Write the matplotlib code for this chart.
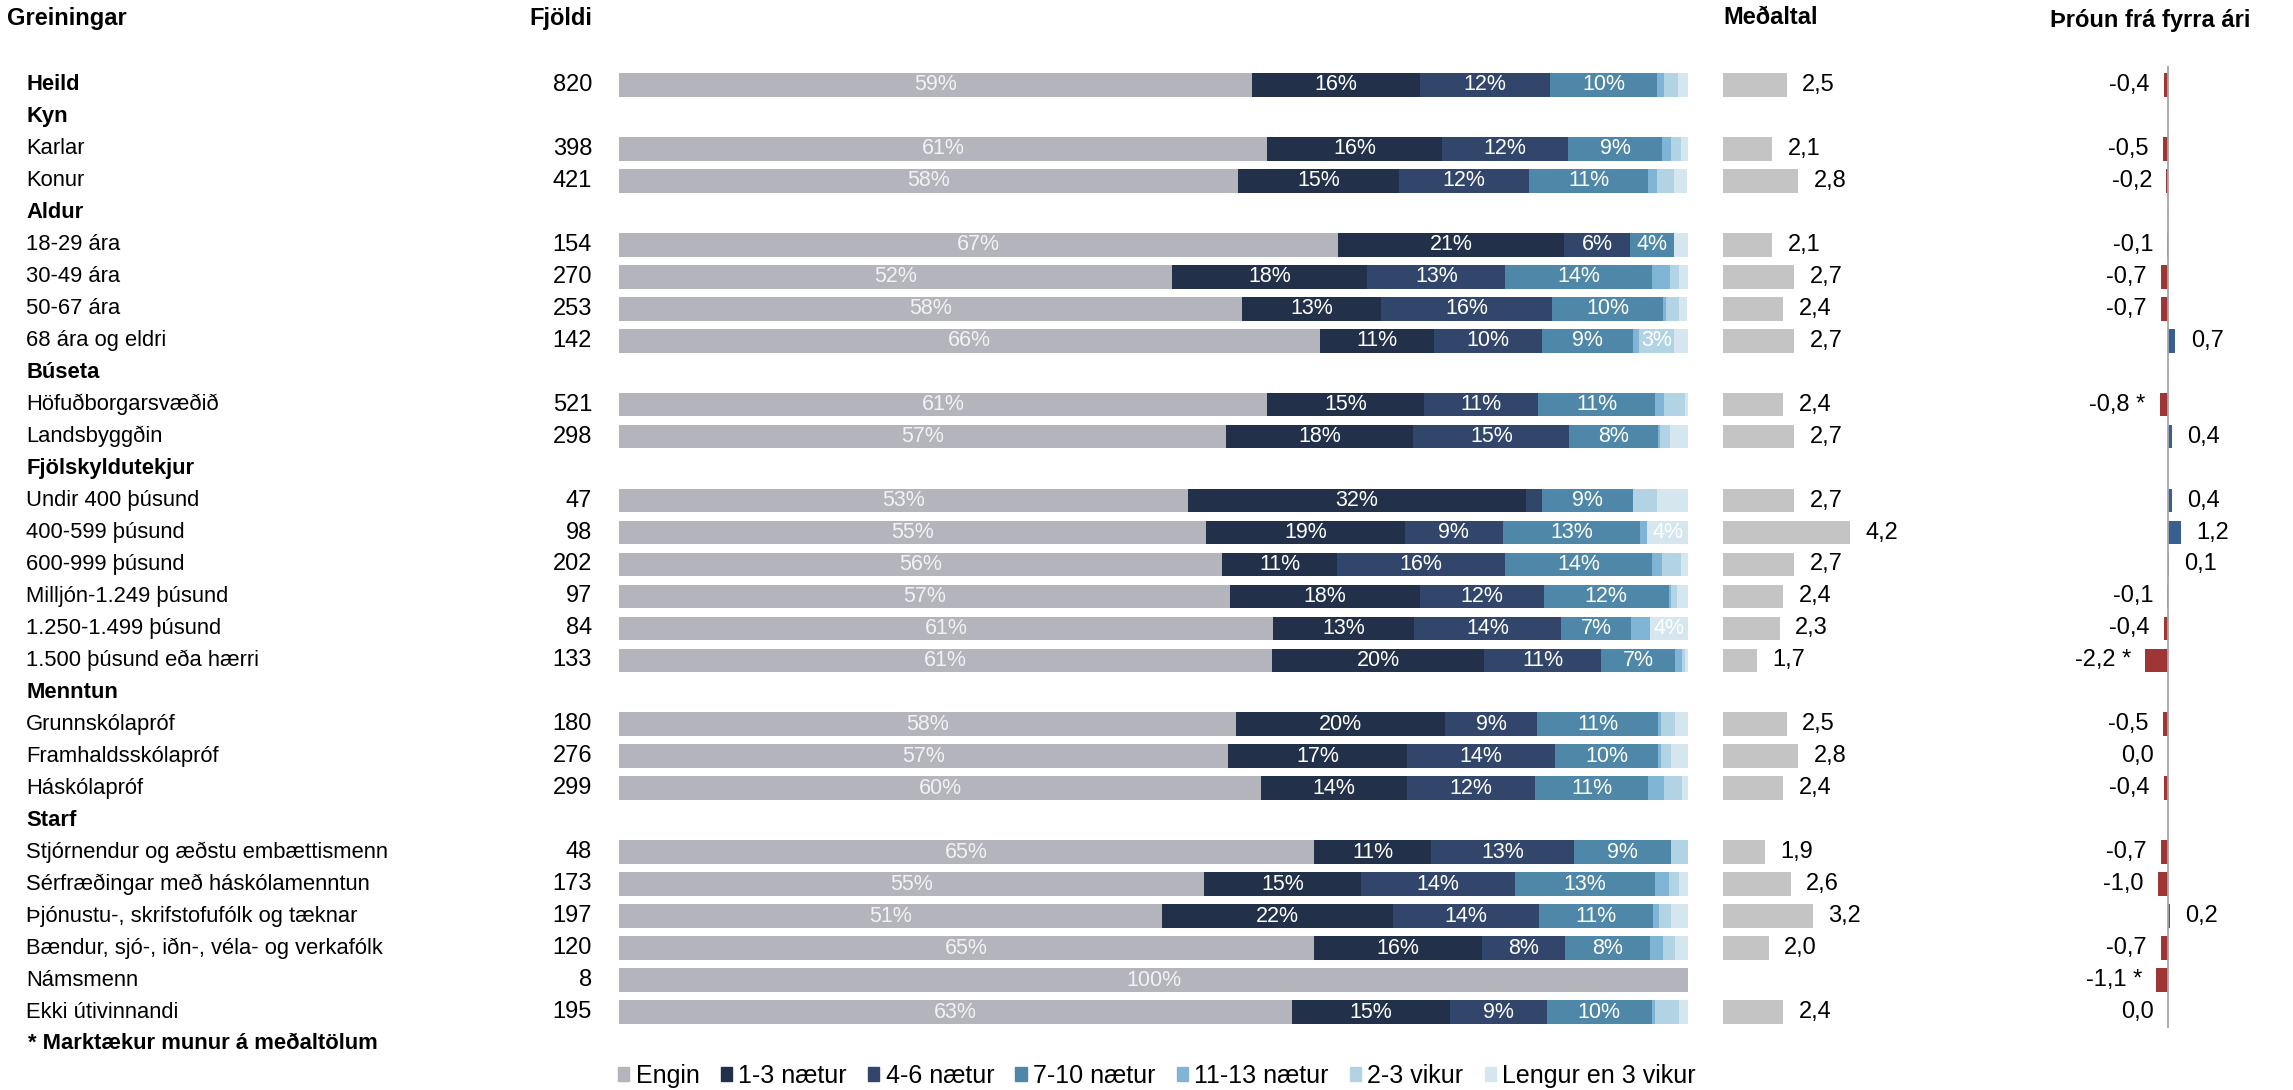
import matplotlib.pyplot as plt
from matplotlib.patches import Patch
from matplotlib.transforms import blended_transform_factory

plt.rcParams['font.family'] = ['Liberation Sans', 'DejaVu Sans']

# row labels, group headers have no data
labels = ["Heild", "Kyn", "Karlar", "Konur", "Aldur", "18-29 ára", "30-49 ára", "50-67 ára",
          "68 ára og eldri", "Búseta", "Höfuðborgarsvæðið", "Landsbyggðin", "Fjölskyldutekjur",
          "Undir 400 þúsund", "400-599 þúsund", "600-999 þúsund", "Milljón-1.249 þúsund",
          "1.250-1.499 þúsund", "1.500 þúsund eða hærri", "Menntun", "Grunnskólapróf",
          "Framhaldsskólapróf", "Háskólapróf", "Starf", "Stjórnendur og æðstu embættismenn",
          "Sérfræðingar með háskólamenntun", "Þjónustu-, skrifstofufólk og tæknar",
          "Bændur, sjó-, iðn-, véla- og verkafólk", "Námsmenn", "Ekki útivinnandi"]
headers = ["Kyn", "Aldur", "Búseta", "Fjölskyldutekjur", "Menntun", "Starf"]

counts = [820, 398, 421, 154, 270, 253, 142, 521, 298, 47, 98, 202, 97, 84, 133,
          180, 276, 299, 48, 173, 197, 120, 8, 195]

# shares (%) per answer
engin = [59.2, 60.6, 57.9, 67.3, 51.7, 58.3, 65.6, 60.6, 56.8, 53.2, 54.9, 56.4, 57.2, 61.2, 61.1,
         57.7, 57.0, 60.1, 65.0, 54.7, 50.8, 65.0, 100, 63.0]
n1_3 = [15.7, 16.4, 15.1, 21.1, 18.3, 13.0, 10.6, 14.7, 17.5, 31.6, 18.6, 10.8, 17.7, 13.2, 19.8,
        19.6, 16.7, 13.6, 11.0, 14.7, 21.6, 15.7, 0, 14.7]
n4_6 = [12.2, 11.8, 12.1, 6.2, 12.9, 16.0, 10.1, 10.7, 14.6, 1.5, 9.2, 15.7, 11.6, 13.7, 11.0,
        8.6, 13.9, 12.0, 13.3, 14.4, 13.7, 7.8, 0, 9.1]
n7_10 = [10.0, 8.8, 11.2, 4.1, 13.7, 10.4, 8.6, 10.9, 8.3, 8.6, 12.8, 13.7, 11.7, 6.6, 6.9,
         11.3, 9.6, 10.6, 9.1, 13.1, 10.6, 7.9, 0, 9.8]
n11_13 = [0.7, 0.8, 0.8, 0, 1.7, 0.2, 0.5, 0.9, 0.2, 0, 0.7, 1.0, 0.2, 1.7, 0.6,
          0.3, 0.3, 1.5, 0, 1.3, 0.6, 1.3, 0, 0.3]
v2_3 = [1.3, 0.9, 1.6, 0, 0.9, 1.3, 3.3, 1.9, 0.9, 2.2, 0, 1.7, 0.6, 0, 0.3,
        1.3, 0.9, 1.6, 1.6, 1.0, 1.1, 1.1, 0, 2.3]
lengur = [1.0, 0.8, 1.2, 1.3, 0.8, 0.7, 1.3, 0.4, 1.7, 2.9, 3.8, 0.7, 1.0, 3.6, 0.3,
          1.2, 1.6, 0.7, 0, 0.8, 1.6, 1.2, 0, 0.8]

means = [2.5, 2.1, 2.8, 2.1, 2.7, 2.4, 2.7, 2.4, 2.7, 2.7, 4.2, 2.7, 2.4, 2.3, 1.7,
         2.5, 2.8, 2.4, 1.9, 2.6, 3.2, 2.0, None, 2.4]
changes = [-0.4, -0.5, -0.2, -0.1, -0.7, -0.7, 0.7, -0.8, 0.4, 0.4, 1.2, 0.1, -0.1, -0.4, -2.2,
           -0.5, -0.04, -0.4, -0.7, -1.0, 0.2, -0.7, -1.1, -0.04]
significant = [False] * 7 + [True] + [False] * 6 + [True] + [False] * 7 + [True, False]

series = [engin, n1_3, n4_6, n7_10, n11_13, v2_3, lengur]
series_names = ["Engin", "1-3 nætur", "4-6 nætur", "7-10 nætur", "11-13 nætur", "2-3 vikur",
                "Lengur en 3 vikur"]
colors = ["#b3b4bc", "#23304a", "#32466c", "#4f87a8", "#80b4d4", "#b2d3e4", "#d5e6ef"]

W, H = 2293, 1090
fig = plt.figure(figsize=(W / 100, H / 100), dpi=100)


def fx(px):
    return px / W


row_top, row_bottom = 69, 1028
bottom = 1 - row_bottom / H
height = (row_bottom - row_top) / H
mean0 = 0.77

ax = fig.add_axes([fx(619), bottom, fx(1688 - 619), height])
ax_mean = fig.add_axes([fx(1723), bottom, fx(300), height])
ax_chg = fig.add_axes([fx(2068), bottom, fx(200), height])
for a in (ax, ax_mean, ax_chg):
    a.set_ylim(len(labels) - 0.5, -0.5)
    a.axis("off")
ax.set_xlim(0, 100)
ax_mean.set_xlim(mean0, mean0 + 300 / 37)
ax_chg.set_xlim(-100 / 10.5, 100 / 10.5)

fs = 15.8      # row labels
fs_pct = 15.5  # labels inside bars
fs_num = 17    # counts, averages and changes
trans = blended_transform_factory(fig.transFigure, ax.transData)
data_y = [i for i, l in enumerate(labels) if l not in headers]

for i, l in enumerate(labels):
    bold = l in headers or l == "Heild"
    ax.text(fx(26), i, l, transform=trans, ha="left", va="center", fontsize=fs,
            fontweight="bold" if bold else "normal")

# stacked bars
left = [0] * len(data_y)
for k, (vals, name, c) in enumerate(zip(series, series_names, colors)):
    ax.barh(data_y, vals, left=left, height=0.74, color=c, label=name)
    for y, v, l0 in zip(data_y, vals, left):
        if v >= 3:
            ax.text(l0 + v / 2, y, f"{v:.0f}%", ha="center", va="center", fontsize=fs_pct,
                    color="#f2f2f2" if k == 0 else "white")
    left = [a + b for a, b in zip(left, vals)]

for y, n in zip(data_y, counts):
    ax.text(fx(592), y, str(n), transform=trans, ha="right", va="center", fontsize=fs_num)

# averages
for y, m in zip(data_y, means):
    if m is None:
        continue
    ax_mean.barh(y, m - mean0, left=mean0, height=0.74, color="#c4c4c4")
    ax_mean.annotate(f"{m:.1f}".replace(".", ","), xy=(m, y), xytext=(11, 0),
                     textcoords="offset points", ha="left", va="center", fontsize=fs_num)

# change from last year
ax_chg.vlines(0, -0.6, 29.5, color="#a6a6a6", lw=1.3, clip_on=False, zorder=3)
for y, c, s in zip(data_y, changes, significant):
    ax_chg.barh(y, c, height=0.74, color="#9f3636" if c < 0 else "#375f8f")
    txt = f"{c:.1f}".replace(".", ",")
    if txt == "-0,0":
        txt = "0,0"
    if s:
        txt += " *"
    if c < 0:
        ax_chg.annotate(txt, xy=(c, y), xytext=(-10, 0), textcoords="offset points",
                        ha="right", va="center", fontsize=fs_num)
    else:
        ax_chg.annotate(txt, xy=(c, y), xytext=(11, 0), textcoords="offset points",
                        ha="left", va="center", fontsize=fs_num)

ax.text(fx(28), 30, "* Marktækur munur á meðaltölum", transform=trans, ha="left",
        va="center", fontsize=fs, fontweight="bold")

fig.text(fx(7), 1 - 18 / H, "Greiningar", ha="left", va="center", fontsize=17, fontweight="bold")
fig.text(fx(592), 1 - 18 / H, "Fjöldi", ha="right", va="center", fontsize=17, fontweight="bold")
fig.text(fx(1723), 1 - 18 / H, "Meðaltal", ha="left", va="center", fontsize=17, fontweight="bold")
fig.text(fx(2150), 1 - 21 / H, "Þróun frá fyrra ári", ha="center", va="center", fontsize=17,
         fontweight="bold")

handles = [Patch(color=c) for c in colors]
fig.legend(handles, series_names, loc="center", bbox_to_anchor=(fx(1157), 1 - 1076 / H),
           ncol=7, frameon=False, fontsize=18, handlelength=0.45, handleheight=0.45,
           handletextpad=0.25, columnspacing=0.85, borderaxespad=0)

fig.savefig("out.png", dpi=100)
